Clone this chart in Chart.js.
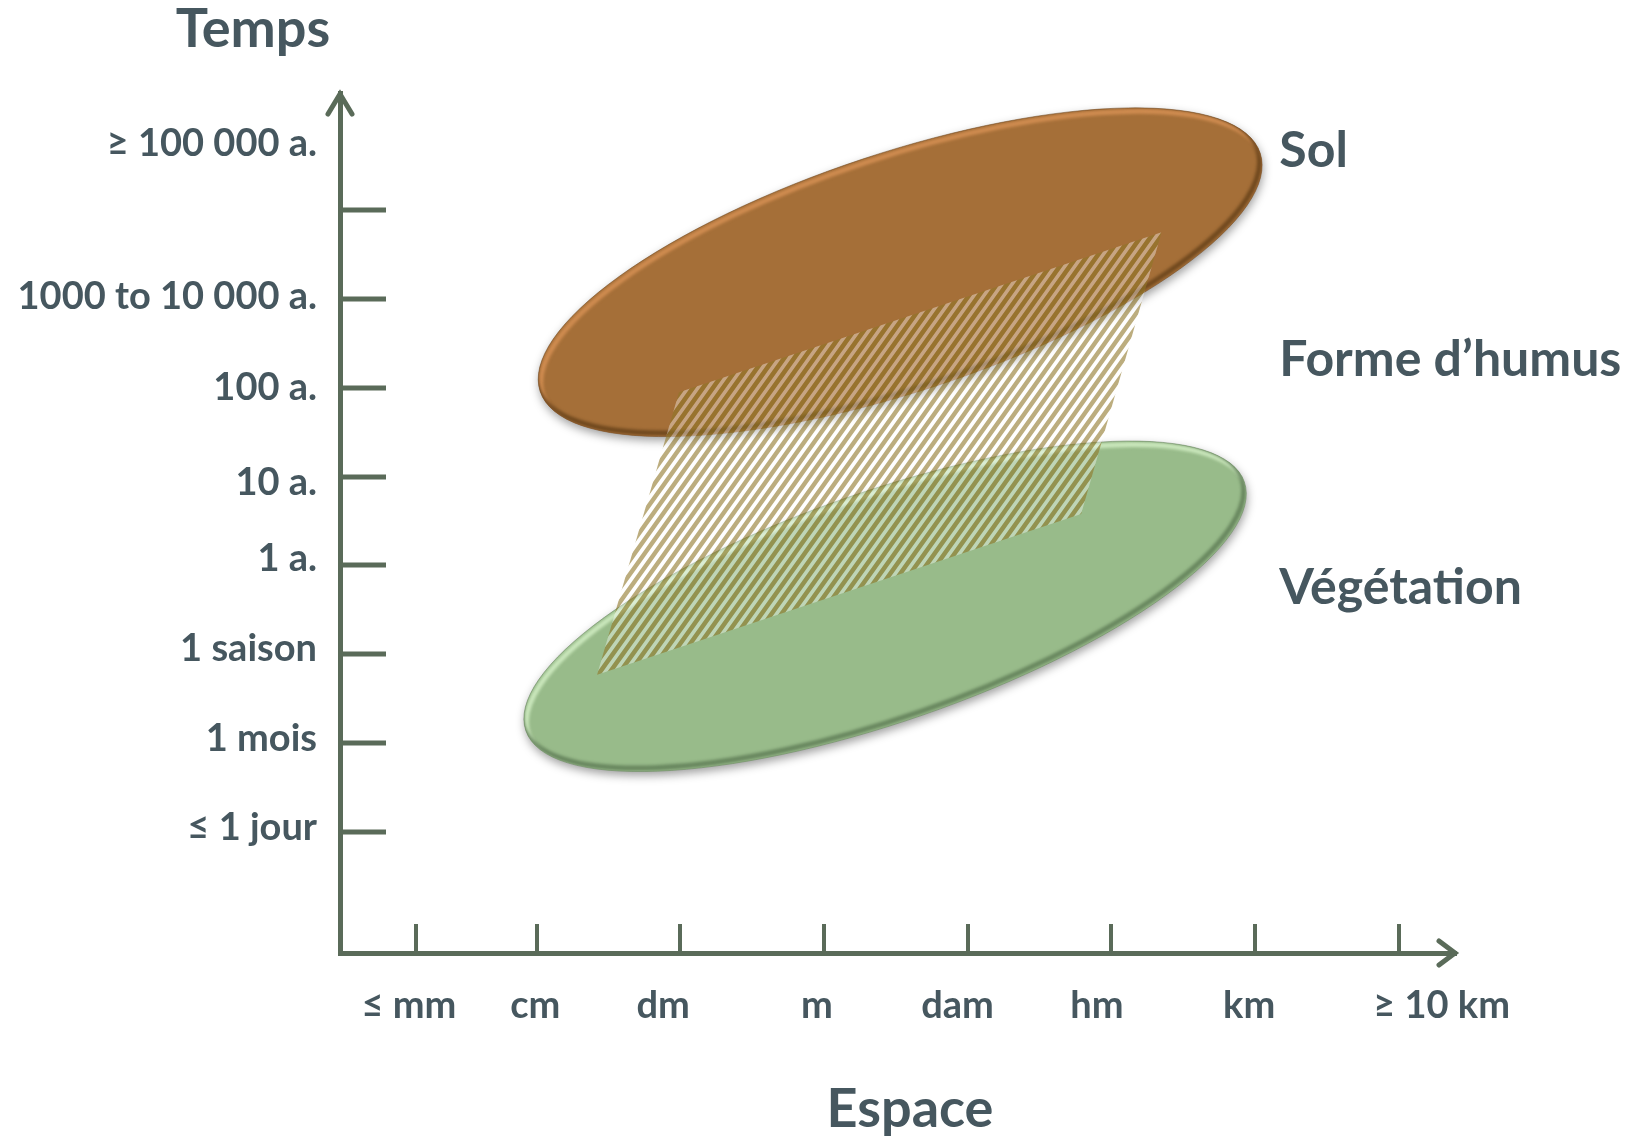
<!DOCTYPE html>
<html>
<head>
<meta charset="utf-8">
<script src="https://cdn.jsdelivr.net/npm/chart.js@4.4.1/dist/chart.umd.min.js"></script>
<style>
  html, body { margin: 0; padding: 0; background: #ffffff; }
  canvas { display: block; }
</style>
</head>
<body>
<canvas id="chart" width="1639" height="1137"></canvas>
<script>
// Espace axis: one unit per order of magnitude of length
const espaceLabels = ['≤ mm', 'cm', 'dm', 'm', 'dam', 'hm', 'km', '≥ 10 km'];
const espaceLabelPos = [0.11, 0.99, 1.88, 2.95, 3.93, 4.90, 5.96, 7.30];
const espaceTicks = [0.16, 1, 2, 3, 4, 5, 6, 7];

// Temps axis: one unit per step of duration
const tempsLabels = ['≤ 1 jour', '1 mois', '1 saison', '1 a.', '10 a.', '100 a.', '1000 to 10 000 a.', '≥ 100 000 a.'];
const tempsLabelPos = [0.05, 1.05, 2.06, 3.07, 3.93, 5, 6.02, 7.75];
const tempsTicks = [0, 1, 2, 3, 4, 5, 6, 7];

// Zones: extent along espace (x) and temps (y), and how strongly they rise together
const zoneNames = ['Sol', 'Forme d’humus', 'Végétation'];
const solX = [1.01, 6.05];
const solY = [4.45, 8.15];
const solTilt = 0.65;
const vegX = [0.91, 5.94];
const vegY = [0.68, 4.40];
const vegTilt = 0.68;
// Forme d'humus: corners of the hatched band
const humusX = [1.99, 5.35, 4.79, 1.42];
const humusY = [4.95, 6.75, 3.58, 1.77];

const textColor = '#46575f';
const axisColor = '#5a6b59';
const FONT = 'Lato';

// diagonal hatch used for the humus band
function makeHatch() {
  const p = 10, q = 14;
  const cv = document.createElement('canvas');
  cv.width = p; cv.height = q;
  const g = cv.getContext('2d');
  g.fillStyle = 'rgba(255,255,255,0.38)';
  g.fillRect(0, 0, p, q);
  const stripes = () => {
    g.beginPath();
    for (let k = 0; k <= 2; k++) {
      g.moveTo(k * p + 2, -2 * q / p);
      g.lineTo((k - 1) * p - 2, q + 2 * q / p);
    }
  };
  g.lineWidth = 4.4;
  g.globalCompositeOperation = 'destination-out';
  g.strokeStyle = '#000';
  stripes(); g.stroke();
  g.globalCompositeOperation = 'source-over';
  g.strokeStyle = 'rgba(143,118,40,0.6)';
  stripes(); g.stroke();
  return g.createPattern(cv, 'repeat');
}

function drawZone(ctx, xs, ys, z) {
  const l = xs.getPixelForValue(z.x[0]), r = xs.getPixelForValue(z.x[1]);
  const t = ys.getPixelForValue(z.y[1]), b = ys.getPixelForValue(z.y[0]);
  const cx = (l + r) / 2, cy = (t + b) / 2, W = (r - l) / 2, H = (b - t) / 2;
  const c = -z.tilt * W * H, A = W * W, B = H * H;
  const disc = Math.sqrt((A - B) * (A - B) / 4 + c * c);
  const ra = Math.sqrt((A + B) / 2 + disc), rb = Math.sqrt((A + B) / 2 - disc);
  const rot = 0.5 * Math.atan2(2 * c, A - B);
  const path = (dx, dy) => {
    ctx.beginPath();
    ctx.ellipse(cx + dx, cy + dy, ra, rb, rot, 0, Math.PI * 2);
  };
  ctx.save();
  ctx.shadowColor = 'rgba(0,0,0,0.38)';
  ctx.shadowBlur = 10;
  ctx.shadowOffsetX = 1;
  ctx.shadowOffsetY = 4;
  ctx.fillStyle = z.color;
  path(0, 0); ctx.fill();
  ctx.restore();

  ctx.save();
  path(0, 0); ctx.clip();
  ctx.filter = 'blur(1.5px)';
  ctx.lineWidth = 5;
  ctx.strokeStyle = z.light; path(2.5, 3.5); ctx.stroke();
  ctx.strokeStyle = z.dark; path(-2.5, -3.5); ctx.stroke();
  ctx.restore();

  ctx.save();
  ctx.lineWidth = 1;
  ctx.strokeStyle = z.edge;
  path(0, 0); ctx.stroke();
  ctx.restore();
}

const zonesPlugin = {
  id: 'zones',
  beforeDatasetsDraw(chart, args, opts) {
    const { ctx, scales: { x, y } } = chart;
    opts.items.forEach(z => drawZone(ctx, x, y, z));
  }
};

const axesPlugin = {
  id: 'axesDecor',
  afterDraw(chart, args, opts) {
    const { ctx, chartArea: a, scales: { x, y } } = chart;
    ctx.save();
    ctx.strokeStyle = axisColor;
    ctx.lineCap = 'butt';
    // inward tick marks
    ctx.lineWidth = 5;
    tempsTicks.forEach(v => {
      const py = Math.round(y.getPixelForValue(v));
      ctx.beginPath(); ctx.moveTo(a.left, py); ctx.lineTo(a.left + 46, py); ctx.stroke();
    });
    ctx.lineWidth = 4;
    espaceTicks.forEach(v => {
      const px = Math.round(x.getPixelForValue(v));
      ctx.beginPath(); ctx.moveTo(px, a.bottom); ctx.lineTo(px, a.bottom - 29); ctx.stroke();
    });
    // arrow heads
    ctx.lineWidth = 5;
    ctx.lineCap = 'round';
    ctx.lineJoin = 'miter';
    ctx.beginPath();
    ctx.moveTo(a.left - 12, a.top + 21); ctx.lineTo(a.left, a.top + 1); ctx.lineTo(a.left + 12, a.top + 21);
    ctx.stroke();
    ctx.beginPath();
    ctx.moveTo(a.right - 17, a.bottom - 12); ctx.lineTo(a.right - 1, a.bottom); ctx.lineTo(a.right - 17, a.bottom + 12);
    ctx.stroke();

    // axis titles
    ctx.fillStyle = textColor;
    ctx.textBaseline = 'alphabetic';
    ctx.textAlign = 'center';
    ctx.font = `bold 54px ${FONT}`;
    ctx.fillText('Temps', a.left - 87, a.top - 46);
    ctx.fillText('Espace', (a.left + a.right) / 2 + 12, a.bottom + 174);

    // zone names
    ctx.textAlign = 'left';
    ctx.font = `bold 50px ${FONT}`;
    opts.names.forEach(n => {
      ctx.fillText(n.text, x.getPixelForValue(n.x), y.getPixelForValue(n.y));
    });
    ctx.restore();
  }
};

const tickFont = { family: FONT, weight: 'bold', size: 38 };

new Chart(document.getElementById('chart'), {
  type: 'line',
  data: {
    datasets: [{
      label: zoneNames[1],
      data: humusX.map((v, i) => ({ x: v, y: humusY[i] })),
      fill: 'shape',
      backgroundColor: makeHatch(),
      borderWidth: 0,
      borderColor: 'rgba(0,0,0,0)',
      pointRadius: 0,
      tension: 0
    }]
  },
  options: {
    responsive: false,
    devicePixelRatio: 1,
    animation: false,
    events: [],
    layout: { padding: { left: 0, right: 183, top: 93, bottom: 0 } },
    plugins: {
      legend: { display: false },
      tooltip: { enabled: false },
      zones: {
        items: [
          { x: solX, y: solY, tilt: solTilt, color: '#a56f38', light: 'rgba(222,150,88,0.75)', dark: 'rgba(95,60,22,0.75)', edge: 'rgba(110,70,30,0.5)' },
          { x: vegX, y: vegY, tilt: vegTilt, color: '#98bb8a', light: 'rgba(210,238,196,0.85)', dark: 'rgba(88,118,80,0.75)', edge: 'rgba(100,130,90,0.5)' }
        ]
      },
      axesDecor: {
        names: [
          { text: zoneNames[0], x: 6.17, y: 7.48 },
          { text: zoneNames[1], x: 6.17, y: 5.13 },
          { text: zoneNames[2], x: 6.17, y: 2.57 }
        ]
      }
    },
    scales: {
      x: {
        type: 'linear',
        min: -0.37,
        max: 7.4,
        grid: { display: false, drawTicks: false },
        border: { display: true, color: axisColor, width: 5 },
        afterBuildTicks: s => { s.ticks = espaceLabelPos.map(v => ({ value: v })); },
        afterFit: s => { s.height = 184; },
        ticks: {
          autoSkip: false, maxRotation: 0, minRotation: 0, padding: 30,
          color: textColor, font: tickFont,
          callback: (v, i) => espaceLabels[i]
        }
      },
      y: {
        type: 'linear',
        min: -1.362,
        max: 8.317,
        grid: { display: false, drawTicks: false },
        border: { display: true, color: axisColor, width: 5 },
        afterBuildTicks: s => { s.ticks = tempsLabelPos.map(v => ({ value: v })); },
        afterFit: s => { s.width = 340; },
        ticks: {
          autoSkip: false, padding: 23,
          color: textColor, font: tickFont,
          callback: (v, i) => tempsLabels[i]
        }
      }
    }
  },
  plugins: [zonesPlugin, axesPlugin]
});
</script>
</body>
</html>
